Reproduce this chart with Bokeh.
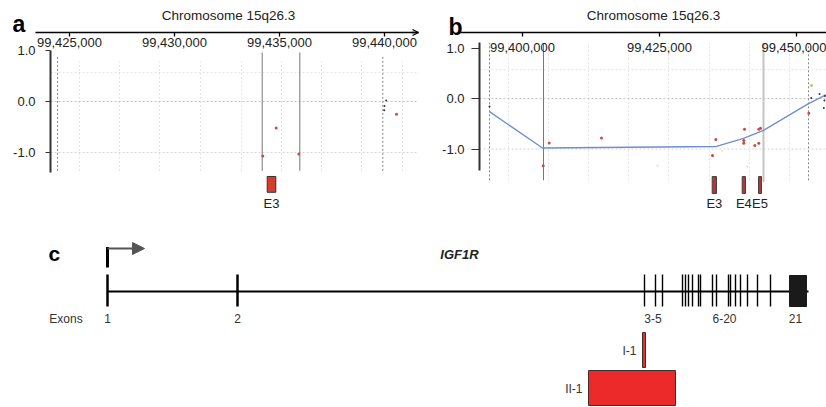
from bokeh.plotting import figure
from bokeh.models import (Range1d, LinearAxis, FixedTicker, NumeralTickFormatter,
                          Label, Arrow, OpenHead, NormalHead)
from bokeh.layouts import column, row
from bokeh.core.properties import value
from bokeh.embed import file_html
from bokeh.resources import INLINE

FONT = "Liberation Sans"
TITLE = "Chromosome 15q26.3"

# ---------------- panel a data ----------------
a_xticks = [99425000, 99430000, 99435000, 99440000]
a_yticks = [-1.0, 0.0, 1.0]
a_red_pos = [99434205, 99434843, 99435919, 99440571]
a_red_val = [-1.07, -0.52, -1.03, -0.25]
a_blk_pos = [99440081, 99440000, 99439986]
a_blk_val = [0.02, -0.09, -0.17]
a_break_pos = [99434176, 99435967]
a_probe_pos = [99424429, 99439919]
a_vgrid = [99425476, 99427381, 99429286, 99431238, 99433190,
           99435095, 99437000, 99438905, 99440857]
a_hgrid = [0.57, 0.0, -1.0]
a_exon_name = ["E3"]
a_exon_start = [99434414]
a_exon_end = [99434824]

# ---------------- panel b data ----------------
b_xticks = [99400000, 99425000, 99450000]
b_yticks = [-1.0, 0.0, 1.0]
b_red_pos = [99403777, 99404872, 99414416, 99434671, 99435273, 99440511,
             99440383, 99440383, 99442390, 99443120, 99443120, 99443430, 99452244]
b_red_val = [-1.33, -0.88, -0.78, -1.13, -0.81, -0.61,
             -0.83, -0.885, -0.93, -0.885, -0.61, -0.59, -0.29]
b_green_pos = [99452737]
b_green_val = [0.26]
b_blk_pos = [99393978, 99452682, 99454197, 99455164, 99454982, 99455100]
b_blk_val = [-0.16, 0.01, 0.09, 0.05, -0.19, -0.04]
b_faint_pos = [99424635, 99436441, 99441003]
b_faint_val = [-1.33, -1.04, -1.35]
b_fit_pos = [99393978, 99403650, 99435401, 99440328, 99443978, 99452190, 99455474]
b_fit_val = [-0.26, -0.98, -0.95, -0.79, -0.63, -0.10, 0.08]
b_break_pos = [99403832]
b_break2_pos = [99443978]
b_probe_pos = [99393978, 99452190]
b_vgrid = [99397445, 99404745, 99412044, 99419343, 99426642,
           99434124, 99441423, 99448722]
b_hgrid = [0.57, 0.0, -1.0]
b_exon_name = ["E3", "E4", "E5"]
b_exon_start = [99434617, 99440091, 99443066]
b_exon_end = [99435401, 99440693, 99443613]

# ---------------- panel c data ----------------
c_gene_start = 99192761
c_gene_end = 99508632
c_exon_pos = [99192761, 99251339,
              99434733, 99439690, 99442844,
              99451856, 99453208, 99454560, 99456362, 99459066, 99459967,
              99465374, 99467176, 99472584, 99473485, 99475738, 99477991,
              99481145, 99485651, 99491509]
c_exon21_start = [99500070]
c_exon21_end = [99507730]
c_label_text = ["Exons", "1", "2", "3-5", "6-20", "21"]
c_label_pos = [99174061, 99192761, 99251339, 99438564, 99470781, 99502774]
c_del_name = ["I-1", "II-1"]
c_del_start = [99433832, 99409500]
c_del_end = [99435184, 99448702]


def make_panel(w, h, xr, yr):
    p = figure(width=w, height=h, x_range=Range1d(*xr), y_range=Range1d(*yr),
               output_backend="svg", toolbar_location=None, min_border=0,
               x_axis_location=None, y_axis_location=None)
    p.outline_line_color = None
    p.grid.visible = False
    return p


def add_axes(p, xfix, xbounds, xticks, xstand, yfix, ybounds, yticks, ytick, ystand):
    xax = LinearAxis(fixed_location=xfix, bounds=xbounds,
                     ticker=FixedTicker(ticks=xticks),
                     formatter=NumeralTickFormatter(format="0,0"),
                     major_tick_in=0, major_tick_out=4, minor_tick_in=0, minor_tick_out=0,
                     major_label_standoff=xstand,
                     axis_line_color="black", axis_line_width=1.3,
                     major_tick_line_color="black", major_tick_line_width=1.3,
                     major_label_text_font=FONT, major_label_text_font_size="13px",
                     major_label_text_color="#222")
    p.add_layout(xax, "below")
    yax = LinearAxis(fixed_location=yfix, bounds=ybounds,
                     ticker=FixedTicker(ticks=yticks),
                     formatter=NumeralTickFormatter(format="0.0"),
                     major_tick_in=0, major_tick_out=ytick, minor_tick_in=0, minor_tick_out=0,
                     major_label_standoff=ystand,
                     axis_line_color="#333", axis_line_width=2,
                     major_tick_line_color="#333", major_tick_line_width=1.2,
                     major_label_text_font=FONT, major_label_text_font_size="13px",
                     major_label_text_color="#222")
    p.add_layout(yax, "left")


# ================= panel a =================
pa = make_panel(420, 228, (99421714, 99441714), (-2.490, 1.980))
pa.segment(x0=a_vgrid, x1=a_vgrid, y0=-1.36, y1=0.78, line_color="#e4e4e4",
           line_width=1, line_dash="2 2")
pa.segment(x0=99424095, x1=99441619, y0=a_hgrid, y1=a_hgrid,
           line_color=["#e2e2e2", "#c4c4c4", "#d6d6d6"], line_width=1, line_dash="2 2")
pa.segment(x0=a_probe_pos, x1=a_probe_pos, y0=-1.36, y1=0.9, line_color="#888",
           line_width=1, line_dash="2 2")
pa.segment(x0=a_break_pos, x1=a_break_pos, y0=-1.36, y1=0.96, line_color="#777",
           line_width=1)
pa.scatter(a_red_pos, a_red_val, size=3, color="#d4483a", line_color=None)
pa.scatter(a_blk_pos, a_blk_val, size=2, color="#333", line_color=None)
pa.quad(left=a_exon_start, right=a_exon_end, top=-1.47, bottom=-1.78,
        fill_color="#d63c2c", line_color="#333", line_width=1)
pa.text(x=[(s + e) / 2 for s, e in zip(a_exon_start, a_exon_end)], y=-2.0,
        text=a_exon_name, text_font=value(FONT), text_font_size="13px",
        text_align="center", text_baseline="middle", text_color="#222")
add_axes(pa, 1.353, (99423381, 99441619), a_xticks, 2,
         99424095, (-1.4, 1.0), a_yticks, 5, 10)
pa.add_layout(Arrow(end=OpenHead(size=6, line_width=1.2, line_color="black"),
                    x_start=99441300, y_start=1.353, x_end=99441619, y_end=1.353,
                    line_color="black", line_width=1.3))
pa.add_layout(Label(x=99432571, y=1.686, text=TITLE, text_font=FONT,
                    text_font_size="13.5px", text_align="center", text_baseline="middle",
                    text_color="#222"))
pa.add_layout(Label(x=99422286, y=1.51, text="a", text_font=FONT,
                    text_font_size="23px", text_font_style="bold", text_align="left",
                    text_baseline="alphabetic", text_color="black"))

# ================= panel b =================
pb = make_panel(406, 228, (99381387, 99455475), (-2.574, 1.941))
pb.segment(x0=b_vgrid, x1=b_vgrid, y0=-1.62, y1=1.1, line_color="#e4e4e4",
           line_width=1, line_dash="2 2")
pb.segment(x0=99392153, x1=99455475, y0=b_hgrid, y1=b_hgrid,
           line_color=["#e2e2e2", "#c4c4c4", "#d6d6d6"], line_width=1, line_dash="2 2")
pb.segment(x0=b_probe_pos, x1=b_probe_pos, y0=-1.62, y1=1.1, line_color="#888",
           line_width=1, line_dash="2 2")
pb.segment(x0=b_break_pos, x1=b_break_pos, y0=-1.62, y1=1.1, line_color="#777",
           line_width=1)
pb.segment(x0=b_break2_pos, x1=b_break2_pos, y0=-1.66, y1=1.1, line_color="#c4c4c4",
           line_width=2)
pb.scatter(b_faint_pos, b_faint_val, size=2, color="#dddddd", line_color=None)
pb.line(b_fit_pos, b_fit_val, line_color="#6b8fd4", line_width=1.3)
pb.scatter(b_red_pos, b_red_val, size=3, color="#d4483a", line_color=None)
pb.scatter(b_green_pos, b_green_val, size=3, color="#9ed36a", line_color=None)
pb.scatter(b_blk_pos, b_blk_val, size=2, color="#333", line_color=None)
pb.quad(left=b_exon_start, right=b_exon_end, top=-1.545, bottom=-1.881,
        fill_color="#b8323a", line_color="#444", line_width=1)
pb.text(x=[(s + e) / 2 for s, e in zip(b_exon_start, b_exon_end)], y=-2.08,
        text=b_exon_name, text_font=value(FONT), text_font_size="13px",
        text_align="center", text_baseline="middle", text_color="#222")
add_axes(pb, 1.307, (99388686, 99455475), b_xticks, 6,
         99392153, (-1.426, 1.109), b_yticks, 8, 7)
pb.add_layout(Label(x=99423905, y=1.644, text=TITLE, text_font=FONT,
                    text_font_size="13.5px", text_align="center", text_baseline="middle",
                    text_color="#222"))
pb.add_layout(Label(x=99386496, y=1.426, text="b", text_font=FONT,
                    text_font_size="23px", text_font_style="bold", text_align="left",
                    text_baseline="alphabetic", text_color="black"))

# ================= panel c =================
pc = make_panel(826, 179, (99144547, 99516742), (-116, 63))
pc.segment(x0=c_gene_start, x1=c_gene_end, y0=0, y1=0, line_color="black", line_width=2)
pc.segment(x0=c_exon_pos[:2], x1=c_exon_pos[:2], y0=-15, y1=17, line_color="black",
           line_width=2.5)
pc.segment(x0=c_exon_pos[2:], x1=c_exon_pos[2:], y0=-15, y1=17, line_color="black",
           line_width=1.4)
pc.quad(left=c_exon21_start, right=c_exon21_end, top=16, bottom=-15,
        fill_color="#1a1a1a", line_color="#1a1a1a")
pc.segment(x0=c_gene_start, x1=c_gene_start, y0=24, y1=44.5, line_color="black",
           line_width=3)
pc.add_layout(Arrow(end=NormalHead(size=12, fill_color="#555", line_color="#555"),
                    x_start=c_gene_start, y_start=43, x_end=99209433, y_end=43,
                    line_color="#555", line_width=2))
pc.text(x=c_label_pos, y=-27, text=c_label_text, text_font=value(FONT),
        text_font_size="12px", text_align="center", text_baseline="middle",
        text_color="#333")
pc.quad(left=c_del_start[:1], right=c_del_end[:1], top=-41, bottom=-76,
        fill_color="#ec2a2a", line_color="#333", line_width=1)
pc.quad(left=c_del_start[1:], right=c_del_end[1:], top=-79, bottom=-114,
        fill_color="#ec2a2a", line_color="#333", line_width=1)
pc.text(x=c_del_start, y=[-59, -97], text=c_del_name, x_offset=-6,
        text_font=value(FONT), text_font_size="12px", text_align="right",
        text_baseline="middle", text_color="#333")
pc.add_layout(Label(x=99351372, y=37, text="IGF1R", text_font=FONT,
                    text_font_size="13px", text_font_style="bold italic",
                    text_align="center", text_baseline="middle", text_color="#222"))
pc.add_layout(Label(x=99166176, y=38, text="c", text_font=FONT,
                    text_font_size="21px", text_font_style="bold", text_align="left",
                    text_baseline="alphabetic", text_color="black"))

layout = column(row(pa, pb), pc)
open("out.html", "w").write(file_html(layout, INLINE))
